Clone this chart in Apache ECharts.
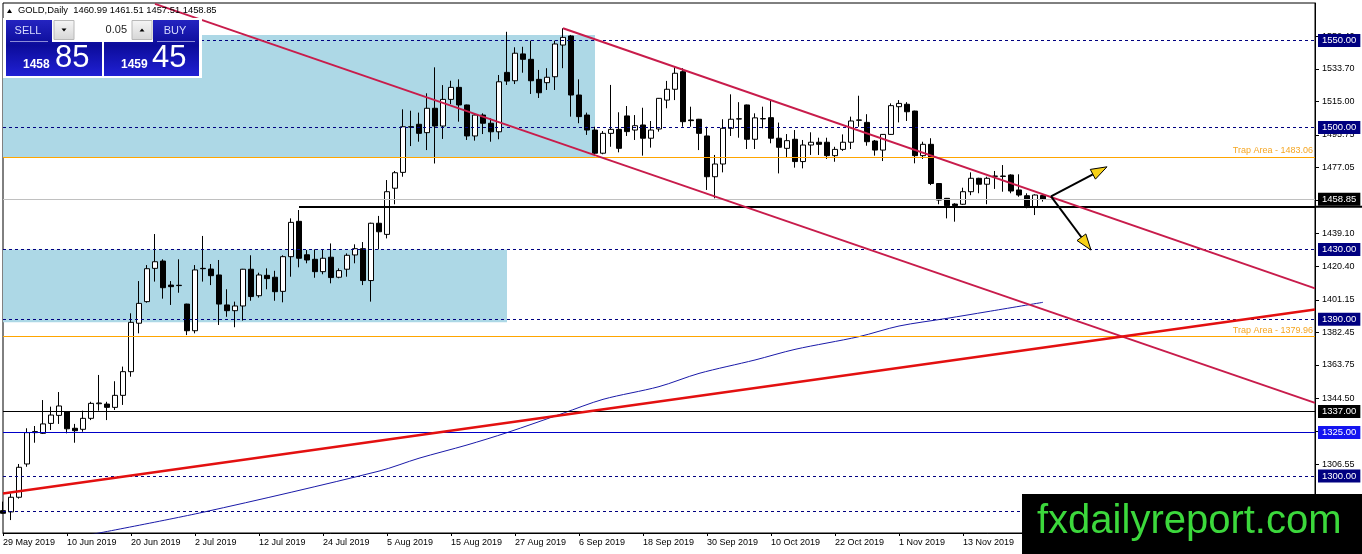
<!DOCTYPE html>
<html>
<head>
<meta charset="utf-8">
<title>GOLD, Daily</title>
<script src="https://cdn.jsdelivr.net/npm/echarts@6.0.0/dist/echarts.min.js"></script>
<style>
  html, body { margin: 0; padding: 0; background: #fff; }
  #chart { width: 1362px; height: 554px; }
</style>
</head>
<body>
<div id="chart"></div>
<script>
// GOLD daily candles, 29 May 2019 .. 27 Nov 2019
var opens = [
  1280.1, 1279.4, 1287.8, 1306.9, 1324.9, 1324.5, 1330.2, 1334.8, 1336.9, 1327.4,
  1326.8, 1333.1, 1341.5, 1341.3, 1339.4, 1346.3, 1359.9, 1387.7, 1400.1, 1419.2,
  1423.4, 1409.6, 1409.5, 1398.7, 1383.4, 1419.2, 1418.8, 1415.4, 1398.2, 1394.9,
  1397.6, 1418.7, 1403.5, 1415.2, 1414.1, 1406.0, 1425.9, 1446.2, 1427.0, 1424.4,
  1417.3, 1425.6, 1414.1, 1418.7, 1426.9, 1430.5, 1412.2, 1445.1, 1438.7, 1465.2,
  1474.3, 1500.3, 1501.9, 1497.1, 1511.1, 1500.9, 1516.2, 1523.1, 1513.0, 1495.2,
  1507.2, 1502.5, 1497.6, 1531.7, 1526.9, 1542.3, 1539.2, 1527.7, 1525.8, 1529.2,
  1547.4, 1552.6, 1518.7, 1507.2, 1498.6, 1485.3, 1496.7, 1499.0, 1506.7, 1498.6,
  1501.5, 1493.9, 1499.2, 1515.8, 1522.0, 1532.1, 1504.4, 1504.8, 1495.2, 1471.8,
  1479.1, 1499.6, 1504.9, 1513.0, 1493.3, 1505.0, 1505.7, 1493.9, 1488.1, 1493.3,
  1480.5, 1490.0, 1491.6, 1491.6, 1483.9, 1487.5, 1491.6, 1504.2, 1503.0, 1492.3,
  1487.1, 1496.1, 1512.0, 1513.4, 1509.5, 1483.9, 1490.4, 1467.9, 1459.4, 1456.1,
  1456.0, 1463.2, 1470.9, 1467.5, 1472.0, 1472.2, 1472.8, 1464.2, 1460.9, 1454.6,
  1460.99
];
var highs = [
  1285.3, 1290.0, 1306.9, 1327.4, 1328.7, 1343.6, 1339.8, 1348.2, 1337.3, 1329.9,
  1337.5, 1342.6, 1358.0, 1342.6, 1354.4, 1362.8, 1393.4, 1411.9, 1421.1, 1438.9,
  1424.4, 1411.9, 1424.4, 1398.9, 1421.1, 1437.8, 1421.7, 1424.0, 1407.2, 1400.1,
  1418.9, 1426.7, 1416.7, 1419.2, 1417.8, 1426.7, 1447.9, 1452.7, 1429.7, 1430.1,
  1430.1, 1433.5, 1419.2, 1427.8, 1433.0, 1434.3, 1445.4, 1449.3, 1469.9, 1475.1,
  1510.5, 1509.7, 1508.6, 1519.7, 1534.6, 1524.4, 1526.9, 1527.7, 1513.2, 1508.2,
  1508.2, 1505.3, 1530.2, 1555.0, 1546.1, 1546.4, 1549.9, 1533.1, 1534.1, 1549.9,
  1557.0, 1553.2, 1527.7, 1508.6, 1500.5, 1498.0, 1524.5, 1508.8, 1512.4, 1507.2,
  1511.4, 1503.8, 1517.0, 1526.8, 1535.0, 1534.1, 1512.0, 1505.0, 1500.5, 1484.3,
  1504.8, 1519.1, 1514.6, 1513.2, 1508.2, 1512.0, 1515.8, 1502.9, 1496.3, 1498.6,
  1492.9, 1497.3, 1494.2, 1494.2, 1489.0, 1496.1, 1506.3, 1518.3, 1507.7, 1492.9,
  1496.3, 1513.9, 1515.8, 1514.6, 1509.7, 1491.9, 1493.9, 1468.1, 1459.6, 1456.6,
  1465.5, 1474.3, 1471.2, 1471.8, 1475.1, 1478.5, 1473.2, 1473.2, 1462.3, 1461.7,
  1461.51
];
var lows = [
  1278.4, 1274.7, 1287.0, 1305.3, 1319.1, 1324.1, 1326.4, 1329.9, 1324.5, 1319.1,
  1325.4, 1332.1, 1337.5, 1332.1, 1337.9, 1340.8, 1357.0, 1381.9, 1399.5, 1411.6,
  1401.8, 1398.2, 1405.2, 1380.9, 1381.9, 1411.6, 1409.6, 1386.7, 1391.4, 1385.4,
  1389.2, 1400.6, 1402.4, 1407.2, 1400.6, 1399.7, 1414.4, 1419.8, 1422.1, 1413.8,
  1415.8, 1410.6, 1413.5, 1414.4, 1422.1, 1409.6, 1400.1, 1430.1, 1436.4, 1456.0,
  1471.8, 1489.4, 1491.9, 1487.1, 1479.4, 1493.5, 1513.5, 1503.4, 1492.9, 1492.5,
  1496.3, 1491.9, 1493.3, 1524.5, 1525.0, 1531.5, 1519.3, 1517.0, 1521.6, 1521.6,
  1534.1, 1506.3, 1502.5, 1495.8, 1484.3, 1484.7, 1489.0, 1485.8, 1495.2, 1492.9,
  1483.9, 1488.5, 1497.7, 1511.1, 1515.8, 1500.5, 1500.5, 1487.1, 1464.2, 1459.4,
  1474.3, 1495.2, 1494.2, 1487.7, 1487.7, 1499.6, 1491.0, 1473.7, 1483.0, 1477.0,
  1476.6, 1484.3, 1484.3, 1482.0, 1480.4, 1486.6, 1487.7, 1500.5, 1489.6, 1483.9,
  1480.8, 1495.8, 1503.0, 1503.8, 1479.5, 1482.0, 1467.0, 1456.0, 1447.9, 1446.0,
  1455.6, 1461.2, 1462.3, 1456.0, 1464.8, 1463.2, 1462.3, 1460.3, 1453.7, 1449.8,
  1457.51
];
var closes = [
  1278.6, 1287.8, 1305.0, 1324.9, 1325.5, 1329.9, 1335.0, 1340.2, 1327.1, 1326.0,
  1333.1, 1341.7, 1341.9, 1339.4, 1346.3, 1359.9, 1388.2, 1399.1, 1419.0, 1423.0,
  1408.1, 1408.7, 1409.3, 1383.4, 1418.3, 1419.0, 1415.0, 1398.7, 1394.9, 1397.6,
  1418.7, 1403.0, 1415.4, 1413.3, 1405.8, 1425.9, 1445.6, 1425.0, 1424.0, 1417.3,
  1425.0, 1413.9, 1417.9, 1426.7, 1430.5, 1412.2, 1445.1, 1440.2, 1463.2, 1474.1,
  1500.5, 1500.5, 1496.7, 1511.1, 1500.9, 1516.2, 1523.1, 1513.0, 1495.2, 1507.2,
  1502.5, 1497.6, 1526.3, 1526.7, 1542.7, 1539.2, 1526.9, 1520.0, 1528.9, 1548.0,
  1551.8, 1518.7, 1506.3, 1498.6, 1485.3, 1496.7, 1499.0, 1488.1, 1497.7, 1501.1,
  1493.9, 1498.6, 1516.8, 1522.0, 1531.2, 1503.4, 1504.0, 1496.7, 1471.8, 1479.1,
  1499.6, 1504.8, 1505.1, 1493.3, 1505.6, 1505.2, 1493.9, 1488.7, 1492.5, 1480.5,
  1490.0, 1491.6, 1490.4, 1483.9, 1487.5, 1491.6, 1503.8, 1504.4, 1491.9, 1487.1,
  1496.1, 1512.6, 1513.9, 1509.1, 1483.9, 1490.4, 1467.9, 1458.4, 1455.2, 1455.2,
  1463.2, 1470.9, 1467.5, 1470.9, 1472.2, 1472.0, 1463.6, 1461.3, 1454.6, 1461.3,
  1458.85
];

// moving average, read at a few bars (bar index, price)
var maBars = [10, 25, 47, 52, 58, 63, 70, 75, 82, 87, 94, 99, 107, 112, 118, 123, 130];
var maValues = [1265.5, 1279.2, 1302.8, 1310.2, 1317.8, 1324.9, 1336.0, 1344.0, 1351.3,
  1358.9, 1366.6, 1372.7, 1380.0, 1386.1, 1390.5, 1394.3, 1399.7];

// price scale of the window and its tick labels
var priceMin = 1267.28;
var priceMax = 1571.53;
var yTicks = [1552.40, 1533.70, 1515.00, 1495.75, 1477.05, 1458.35, 1439.10, 1420.40,
  1401.15, 1382.45, 1363.75, 1344.50, 1325.80, 1306.55, 1287.85];

// horizontal levels
var boxedDashed = [1550, 1500, 1430, 1390, 1300];
var plainDashed = [1280];
var trapLevels = [1483.06, 1379.96];
var blackLevel = 1337;
var blueLevel = 1325;
var lastPrice = 1458.85;
var supportLevel = 1454.6;
var supportFromBar = 37;

// zones [fromBar, top, toBar, bottom]
var upperZone = [0, 1553.2, 74, 1483.06];
var lowerZone = [0, 1430, 63, 1388.2];

// trend lines [bar, price, bar, price]
var channelTop = [70, 1557.0, 164, 1407.7];
var channelBottom = [19, 1571.0, 164, 1342.0];
var upTrend = [0, 1290.0, 164, 1395.6];

// arrows [fromBar, fromPrice, toBar, toPrice]
var arrows = [
  [131, 1460.5, 138, 1477.5],
  [131, 1460.5, 136, 1429.7]
];

var totalBars = 165;
var months = ['Jan', 'Feb', 'Mar', 'Apr', 'May', 'Jun', 'Jul', 'Aug', 'Sep', 'Oct', 'Nov', 'Dec'];
var dates = [];
var day = new Date(Date.UTC(2019, 4, 29));
while (dates.length < totalBars) {
  var wd = day.getUTCDay();
  if (wd !== 0 && wd !== 6) {
    dates.push(day.getUTCDate() + ' ' + months[day.getUTCMonth()] + ' ' + day.getUTCFullYear());
  }
  day.setUTCDate(day.getUTCDate() + 1);
}

var FONT = 'Liberation Sans';
var NAVY = '#000080';

var candles = opens.map(function (o, i) {
  return [o, closes[i], lows[i], highs[i]];
});
var maData = maBars.map(function (b, i) {
  return [b, maValues[i]];
});

function boxLabel(bg) {
  return {
    show: true,
    position: 'end',
    distance: 3,
    formatter: function (p) { return p.value.toFixed(2); },
    color: '#fff',
    backgroundColor: bg,
    padding: [2, 4, 1, 4],
    fontSize: 9.5,
    fontFamily: FONT
  };
}

function seg(a, style) {
  return [{ coord: [a[0], a[1]], lineStyle: style }, { coord: [a[2], a[3]] }];
}

var levelLines = [];
boxedDashed.forEach(function (v) {
  levelLines.push({ yAxis: v, lineStyle: { color: NAVY, type: [3, 3], width: 1 }, label: boxLabel(NAVY) });
});
plainDashed.forEach(function (v) {
  levelLines.push({ yAxis: v, lineStyle: { color: NAVY, type: [3, 3], width: 1 }, label: { show: false } });
});
trapLevels.forEach(function (v) {
  levelLines.push({
    yAxis: v,
    lineStyle: { color: '#ffa500', type: 'solid', width: 1 },
    label: {
      show: true, position: 'insideEndTop', distance: 2,
      formatter: function (p) { return 'Trap Area - ' + p.value.toFixed(2); },
      color: '#f5a623', fontSize: 9, fontFamily: FONT
    }
  });
});
levelLines.push({ yAxis: blackLevel, lineStyle: { color: '#000', type: 'solid', width: 1 }, label: boxLabel('#000') });
levelLines.push({ yAxis: blueLevel, lineStyle: { color: '#0000c8', type: 'solid', width: 1 }, label: boxLabel('#1414f0') });
levelLines.push({ yAxis: lastPrice, lineStyle: { color: '#c0c0c0', type: 'solid', width: 1 }, label: boxLabel('#000') });
levelLines.push(seg([supportFromBar, supportLevel, totalBars - 1, supportLevel],
  { color: '#000', type: 'solid', width: 2 }));

function renderArrow(params, api) {
  var a = api.coord([api.value(0), api.value(1)]);
  var b = api.coord([api.value(2), api.value(3)]);
  var dx = b[0] - a[0], dy = b[1] - a[1];
  var len = Math.sqrt(dx * dx + dy * dy);
  var ux = dx / len, uy = dy / len;
  var hl = 16, hw = 5.5;
  var bx = b[0] - ux * hl, by = b[1] - uy * hl;
  return {
    type: 'group',
    children: [
      { type: 'line', shape: { x1: a[0], y1: a[1], x2: bx, y2: by }, style: { stroke: '#000', lineWidth: 2 } },
      {
        type: 'polygon',
        shape: { points: [[b[0], b[1]], [bx - uy * hw, by + ux * hw], [bx + uy * hw, by - ux * hw]] },
        style: { fill: '#f7d117', stroke: '#000', lineWidth: 1 }
      }
    ]
  };
}

var btnGrad = new echarts.graphic.LinearGradient(0, 0, 0, 1, [
  { offset: 0, color: '#2424c0' },
  { offset: 0.45, color: '#0c0c9a' },
  { offset: 1, color: '#2020d4' }
]);
var greyGrad = new echarts.graphic.LinearGradient(0, 0, 0, 1, [
  { offset: 0, color: '#f6f6f6' },
  { offset: 1, color: '#d6d6d6' }
]);

var panel = [
  { type: 'polygon', z: 100, shape: { points: [[7, 13], [9.5, 9], [12, 13]] }, style: { fill: '#000' } },
  { type: 'text', z: 100, style: { x: 18, y: 10, text: 'GOLD,Daily  1460.99 1461.51 1457.51 1458.85', fill: '#000', fontSize: 9.4, fontFamily: FONT, verticalAlign: 'middle' } },
  { type: 'rect', z: 100, shape: { x: 3, y: 18, width: 199, height: 60 }, style: { fill: '#fff' } },
  { type: 'rect', z: 100, shape: { x: 6, y: 20, width: 96, height: 56 }, style: { fill: btnGrad } },
  { type: 'rect', z: 100, shape: { x: 104, y: 20, width: 95, height: 56 }, style: { fill: btnGrad } },
  { type: 'rect', z: 101, shape: { x: 52, y: 18, width: 101, height: 24 }, style: { fill: '#fff' } },
  { type: 'rect', z: 102, shape: { x: 54, y: 20.5, width: 20, height: 19 }, style: { fill: greyGrad, stroke: '#b8b8b8', lineWidth: 1 } },
  { type: 'rect', z: 102, shape: { x: 132, y: 20.5, width: 20, height: 19 }, style: { fill: greyGrad, stroke: '#b8b8b8', lineWidth: 1 } },
  { type: 'polygon', z: 103, shape: { points: [[61.5, 28.5], [66.5, 28.5], [64, 31.5]] }, style: { fill: '#000' } },
  { type: 'polygon', z: 103, shape: { points: [[139.5, 31.5], [144.5, 31.5], [142, 28.5]] }, style: { fill: '#000' } },
  { type: 'text', z: 103, style: { x: 127, y: 30, text: '0.05', fill: '#222', fontSize: 11, fontFamily: FONT, align: 'right', verticalAlign: 'middle' } },
  { type: 'text', z: 103, style: { x: 28, y: 31, text: 'SELL', fill: '#d8dcff', fontSize: 11, fontFamily: FONT, align: 'center', verticalAlign: 'middle' } },
  { type: 'text', z: 103, style: { x: 175, y: 31, text: 'BUY', fill: '#d8dcff', fontSize: 11, fontFamily: FONT, align: 'center', verticalAlign: 'middle' } },
  { type: 'line', z: 103, shape: { x1: 10, y1: 41.5, x2: 48, y2: 41.5 }, style: { stroke: '#8c8cd8', lineWidth: 1 } },
  { type: 'line', z: 103, shape: { x1: 157, y1: 41.5, x2: 195, y2: 41.5 }, style: { stroke: '#8c8cd8', lineWidth: 1 } },
  { type: 'text', z: 103, style: { x: 23, y: 71, text: '1458', fill: '#fff', fontSize: 12, fontWeight: 'bold', fontFamily: FONT, verticalAlign: 'bottom' } },
  { type: 'text', z: 103, style: { x: 55, y: 74, text: '85', fill: '#fff', fontSize: 31, fontFamily: FONT, verticalAlign: 'bottom' } },
  { type: 'text', z: 103, style: { x: 121, y: 71, text: '1459', fill: '#fff', fontSize: 12, fontWeight: 'bold', fontFamily: FONT, verticalAlign: 'bottom' } },
  { type: 'text', z: 103, style: { x: 152, y: 74, text: '45', fill: '#fff', fontSize: 31, fontFamily: FONT, verticalAlign: 'bottom' } },
  { type: 'rect', z: 110, shape: { x: 1022, y: 494, width: 340, height: 60 }, style: { fill: '#000' } },
  { type: 'text', z: 111, style: { x: 1037, y: 522, text: 'fxdailyreport.com', fill: '#3cd83c', fontSize: 40, fontFamily: FONT, verticalAlign: 'middle' } }
];

var chart = echarts.init(document.getElementById('chart'));

var option = {
  animation: false,
  backgroundColor: '#fff',
  textStyle: { fontFamily: FONT },
  grid: { left: 3, top: 3, width: 1312, height: 530, show: true, borderColor: '#000', borderWidth: 1 },
  xAxis: {
    type: 'category',
    data: dates,
    boundaryGap: false,
    axisLine: { lineStyle: { color: '#000', width: 1 } },
    axisTick: { interval: 7, length: 3, lineStyle: { color: '#000' } },
    axisLabel: { interval: 7, align: 'left', margin: 5, fontSize: 9, color: '#000', fontFamily: FONT },
    splitLine: { show: false }
  },
  yAxis: {
    type: 'value',
    position: 'right',
    min: priceMin,
    max: priceMax,
    axisLine: { show: true, lineStyle: { color: '#000', width: 1 } },
    axisTick: { show: true, length: 4, customValues: yTicks, lineStyle: { color: '#000' } },
    axisLabel: {
      customValues: yTicks, margin: 7, fontSize: 9, color: '#000', fontFamily: FONT,
      formatter: function (v) { return v.toFixed(2); }
    },
    splitLine: { show: false }
  },
  series: [
    {
      name: 'zones', type: 'line', data: [], z: 1, silent: true,
      markArea: {
        silent: true,
        itemStyle: { color: '#add8e6' },
        data: [
          [{ coord: [upperZone[0], upperZone[1]] }, { coord: [upperZone[2], upperZone[3]] }],
          [{ coord: [lowerZone[0], lowerZone[1]] }, { coord: [lowerZone[2], lowerZone[3]] }]
        ]
      }
    },
    {
      name: 'levels', type: 'line', data: [], z: 2, silent: true,
      markLine: { silent: true, symbol: 'none', animation: false, data: levelLines }
    },
    {
      name: 'MA', type: 'line', data: maData, z: 3, showSymbol: false, silent: true, smooth: 0.3,
      lineStyle: { color: '#1a1aa8', width: 1 }
    },
    {
      name: 'GOLD', type: 'candlestick', data: candles, z: 4, barWidth: 5, silent: true,
      itemStyle: {
        color: '#fff', color0: '#000',
        borderColor: '#000', borderColor0: '#000', borderColorDoji: '#000', borderWidth: 1
      }
    },
    {
      name: 'trend', type: 'line', data: [], z: 5, silent: true,
      markLine: {
        silent: true, symbol: 'none', animation: false,
        label: { show: false },
        data: [
          seg(channelTop, { color: '#c81c4b', width: 2, type: 'solid' }),
          seg(channelBottom, { color: '#c81c4b', width: 2, type: 'solid' }),
          seg(upTrend, { color: '#e31010', width: 2.5, type: 'solid' })
        ]
      }
    },
    {
      name: 'arrows', type: 'custom', z: 6, silent: true,
      renderItem: renderArrow,
      encode: { x: [0, 2], y: [1, 3] },
      data: arrows
    }
  ],
  graphic: { elements: panel }
};

chart.setOption(option);

// the support line runs on past the price scale
var ySupport = chart.convertToPixel({ yAxisIndex: 0 }, supportLevel);
var xLast = chart.convertToPixel({ xAxisIndex: 0 }, totalBars - 1);
chart.setOption({
  graphic: {
    elements: [{
      id: 'supportTail', type: 'line', z: 50,
      shape: { x1: xLast, y1: ySupport, x2: chart.getWidth(), y2: ySupport },
      style: { stroke: '#000', lineWidth: 2 }
    }]
  }
});
</script>
</body>
</html>
